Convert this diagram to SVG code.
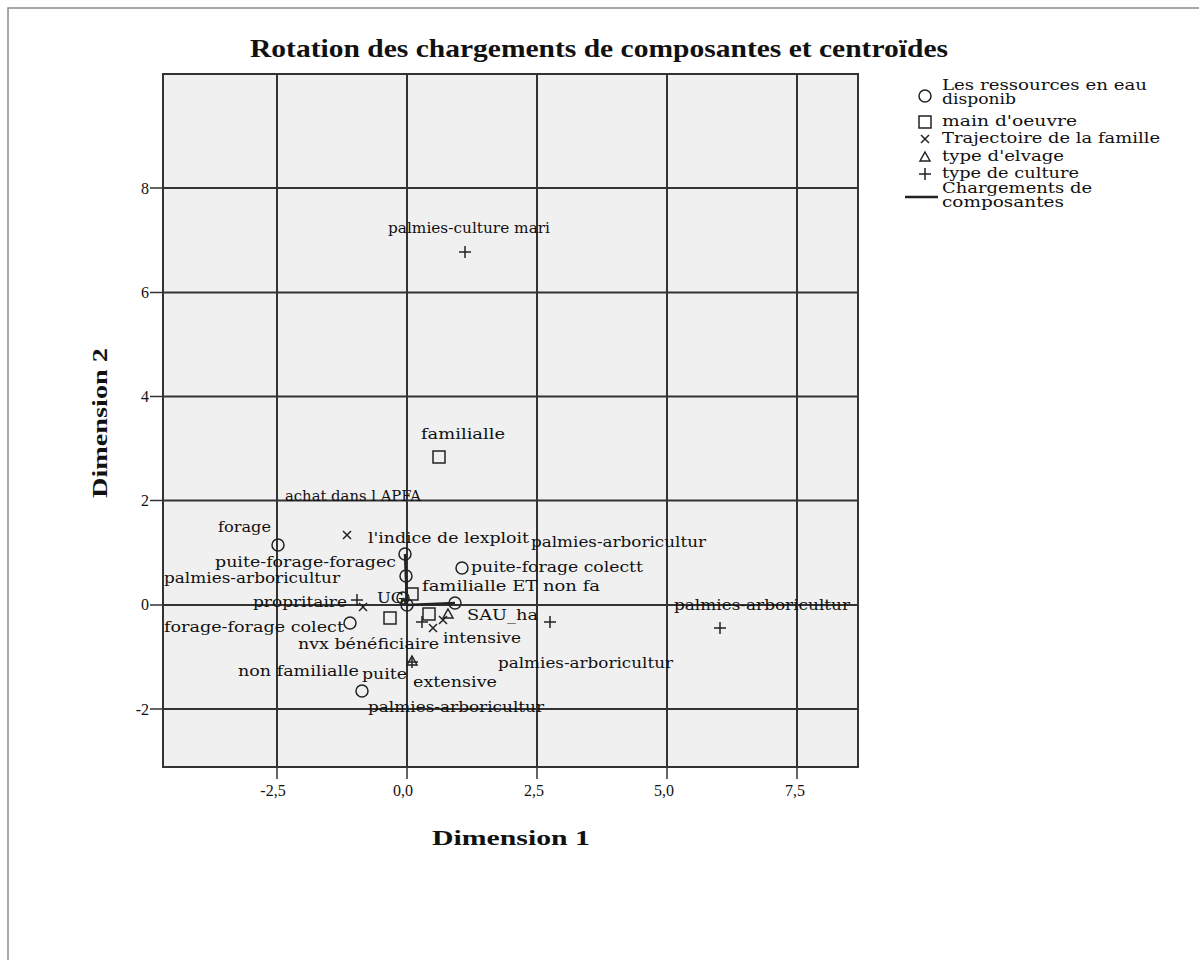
<svg xmlns="http://www.w3.org/2000/svg" width="1199" height="960" viewBox="0 0 1199 960">
<style>
.frame{fill:#fff;stroke:#8a8a8a;stroke-width:1.5}
.plot{fill:#f0f0f0;stroke:#333;stroke-width:2}
.grid{stroke:#333;stroke-width:2;fill:none}
.tick{stroke:#333;stroke-width:1.5}
.mk{fill:none;stroke:#222;stroke-width:1.5}
.lbl{font-family:"DejaVu Serif","Liberation Serif",serif;font-size:14px;fill:#111}
.leg{font-family:"DejaVu Serif","Liberation Serif",serif;font-size:14px;fill:#111}
.tk{font-family:"Liberation Serif",serif;font-size:16px;fill:#111}
.ttl{font-family:"Liberation Serif",serif;font-weight:bold;font-size:25px;fill:#111}
.ax{font-family:"Liberation Serif",serif;font-weight:bold;font-size:21px;fill:#111}
.load{stroke:#222;stroke-width:2.5;fill:none}
</style>
<defs>
<circle id="mc" r="6" class="mk"/>
<rect id="ms" x="-6" y="-6" width="12" height="12" class="mk"/>
<path id="mx" d="M-4,-4L4,4M-4,4L4,-4" class="mk"/>
<path id="mp" d="M-6,0H6M0,-6V6" class="mk"/>
<path id="mt" d="M0,-5L5,4H-5Z" class="mk"/>
</defs>
<rect class="frame" x="8" y="8" width="1200" height="960"/>
<text class="ttl" x="250" y="57" textLength="698" lengthAdjust="spacingAndGlyphs">Rotation des chargements de composantes et centroïdes</text>
<g id="axes">
<rect class="plot" x="163" y="74" width="695" height="693"/>
<path class="grid" d="M277,74V767M407,74V767M537,74V767M667,74V767M797,74V767M163,188H858M163,292.5H858M163,396.5H858M163,500.5H858M163,605H858M163,709H858"/>
<path class="tick" d="M150,188H163M150,292.5H163M150,396.5H163M150,500.5H163M150,605H163M150,709H163M277,767V779M407,767V779M537,767V779M667,767V779M797,767V779"/>
<g class="tk" text-anchor="end">
<text x="149" y="194">8</text><text x="149" y="298">6</text><text x="149" y="402">4</text><text x="149" y="506">2</text><text x="149" y="610">0</text><text x="149" y="715">-2</text>
</g>
<g class="tk" text-anchor="middle">
<text x="273" y="796">-2,5</text><text x="403" y="796">0,0</text><text x="534" y="796">2,5</text><text x="664" y="796">5,0</text><text x="795" y="796">7,5</text>
</g>
<text class="ax" x="432" y="845" textLength="158" lengthAdjust="spacingAndGlyphs">Dimension 1</text>
<text class="ax" transform="translate(107,498) rotate(-90)" textLength="150" lengthAdjust="spacingAndGlyphs">Dimension 2</text>
</g>
<g id="connectors">
<path class="load" d="M407,605L405,554M407,605L455,603M407,605L403,598"/>
</g>
<g id="n-palmies-culture-mari"><use href="#mp" x="465" y="252"/><text class="lbl" x="388" y="233" textLength="162" lengthAdjust="spacingAndGlyphs">palmies-culture mari</text></g>
<g id="n-familialle"><use href="#ms" x="439" y="457"/><text class="lbl" x="421" y="439" textLength="84" lengthAdjust="spacingAndGlyphs">familialle</text></g>
<g id="n-achat"><use href="#mx" x="347" y="535"/><text class="lbl" x="285" y="501" textLength="136" lengthAdjust="spacingAndGlyphs">achat dans l APFA</text></g>
<g id="n-forage"><use href="#mc" x="278" y="545"/><text class="lbl" x="218" y="532" textLength="53" lengthAdjust="spacingAndGlyphs">forage</text></g>
<g id="n-indice"><use href="#mc" x="405" y="554"/><text class="lbl" x="368" y="543" textLength="161" lengthAdjust="spacingAndGlyphs">l'indice de lexploit</text></g>
<g id="n-palmies-arbo-1"><text class="lbl" x="531" y="547" textLength="175" lengthAdjust="spacingAndGlyphs">palmies-arboricultur</text></g>
<g id="n-puite-forage-foragec"><use href="#mc" x="406" y="576"/><text class="lbl" x="215" y="567" textLength="181" lengthAdjust="spacingAndGlyphs">puite-forage-foragec</text></g>
<g id="n-puite-forage-colectt"><use href="#mc" x="462" y="568"/><text class="lbl" x="471" y="572" textLength="172" lengthAdjust="spacingAndGlyphs">puite-forage colectt</text></g>
<g id="n-palmies-arbo-2"><use href="#mp" x="357" y="600"/><text class="lbl" x="164" y="583" textLength="176" lengthAdjust="spacingAndGlyphs">palmies-arboricultur</text></g>
<g id="n-familialle-et"><use href="#ms" x="412" y="594"/><text class="lbl" x="422" y="591" textLength="178" lengthAdjust="spacingAndGlyphs">familialle ET non fa</text></g>
<g id="n-propritaire"><use href="#mx" x="363" y="607"/><text class="lbl" x="253" y="607" textLength="94" lengthAdjust="spacingAndGlyphs">propritaire</text></g>
<g id="n-ugb"><use href="#mc" x="403" y="598"/><use href="#mc" x="407" y="605"/><text class="lbl" x="377" y="603" textLength="27" lengthAdjust="spacingAndGlyphs">UG</text></g>
<g id="n-sau"><use href="#mc" x="455" y="603"/><text class="lbl" x="467" y="620" textLength="71" lengthAdjust="spacingAndGlyphs">SAU_ha</text></g>
<g id="n-palmies-arbo-3"><use href="#mp" x="720" y="628"/><text class="lbl" x="674" y="610" textLength="176" lengthAdjust="spacingAndGlyphs">palmies-arboricultur</text></g>
<g id="n-forage-colect"><use href="#mc" x="350" y="623"/><text class="lbl" x="164" y="632" textLength="180" lengthAdjust="spacingAndGlyphs">forage-forage colect</text></g>
<g id="n-nvx"><use href="#ms" x="390" y="618"/><text class="lbl" x="298" y="649" textLength="141" lengthAdjust="spacingAndGlyphs">nvx bénéficiaire</text></g>
<g id="n-intensive"><use href="#mp" x="422" y="622"/><use href="#ms" x="429" y="614"/><use href="#mx" x="443" y="620"/><use href="#mx" x="433" y="628"/><use href="#mt" x="448" y="614"/><text class="lbl" x="443" y="643" textLength="78" lengthAdjust="spacingAndGlyphs">intensive</text></g>
<g id="n-palmies-arbo-4"><use href="#mp" x="550" y="622"/><text class="lbl" x="498" y="668" textLength="175" lengthAdjust="spacingAndGlyphs">palmies-arboricultur</text></g>
<g id="n-non-familialle"><text class="lbl" x="238" y="676" textLength="121" lengthAdjust="spacingAndGlyphs">non familialle</text></g>
<g id="n-puite"><use href="#mc" x="362" y="691"/><text class="lbl" x="362" y="679" textLength="45" lengthAdjust="spacingAndGlyphs">puite</text></g>
<g id="n-extensive"><use href="#mt" x="412" y="661"/><use href="#mp" x="412" y="662"/><text class="lbl" x="413" y="687" textLength="84" lengthAdjust="spacingAndGlyphs">extensive</text></g>
<g id="n-palmies-arbo-5"><text class="lbl" x="368" y="712" textLength="176" lengthAdjust="spacingAndGlyphs">palmies-arboricultur</text></g>
<g id="legend">
<use href="#mc" x="925" y="96"/>
<text class="leg" x="942" y="90" textLength="205" lengthAdjust="spacingAndGlyphs">Les ressources en eau</text>
<text class="leg" x="942" y="104" textLength="74" lengthAdjust="spacingAndGlyphs">disponib</text>
<use href="#ms" x="925" y="122"/>
<text class="leg" x="942" y="126" textLength="135" lengthAdjust="spacingAndGlyphs">main d'oeuvre</text>
<use href="#mx" x="925" y="139"/>
<text class="leg" x="942" y="143" textLength="218" lengthAdjust="spacingAndGlyphs">Trajectoire de la famille</text>
<use href="#mt" x="925" y="157"/>
<text class="leg" x="942" y="161" textLength="122" lengthAdjust="spacingAndGlyphs">type d'elvage</text>
<use href="#mp" x="925" y="174"/>
<text class="leg" x="942" y="178" textLength="137" lengthAdjust="spacingAndGlyphs">type de culture</text>
<line x1="905" y1="197" x2="938" y2="197" stroke="#222" stroke-width="2.5"/>
<text class="leg" x="942" y="193" textLength="150" lengthAdjust="spacingAndGlyphs">Chargements de</text>
<text class="leg" x="942" y="207" textLength="122" lengthAdjust="spacingAndGlyphs">composantes</text>
</g>
</svg>
